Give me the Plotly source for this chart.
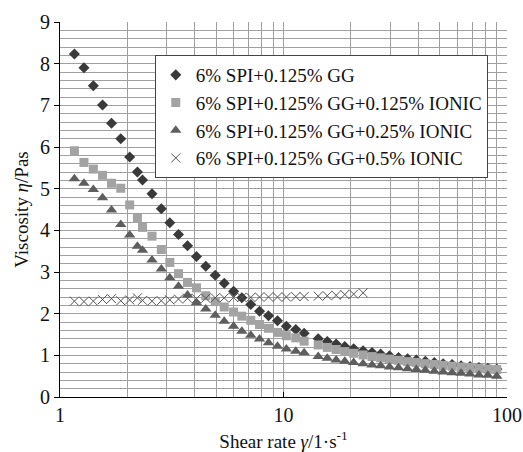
import plotly.graph_objects as go

# Shear rate (1/s), shared by all series
shear_rate = [1.16, 1.28, 1.41, 1.55, 1.70, 1.87, 2.05, 2.22, 2.34, 2.58, 2.84, 3.10, 3.39, 3.72,
              4.08, 4.49, 4.95, 5.43, 5.98, 6.51, 7.14, 7.81, 8.57, 9.40, 10.3, 11.35, 12.37,
              14.3, 15.7, 17.2, 18.8, 20.6, 22.7, 24.9, 27.2, 29.8, 32.7, 35.9, 39.3, 43.1,
              47.3, 51.8, 56.8, 62.3, 68.3, 74.9, 82.1, 90.0]

visc_gg = [8.23, 7.90, 7.47, 7.01, 6.57, 6.20, 5.76, 5.40, 5.21, 4.88, 4.52, 4.18, 3.90, 3.63,
           3.37, 3.14, 2.92, 2.73, 2.54, 2.38, 2.22, 2.06, 1.95, 1.83, 1.70, 1.62, 1.53,
           1.40, 1.33, 1.27, 1.21, 1.16, 1.11, 1.07, 1.03, 0.99, 0.95, 0.92, 0.89, 0.86,
           0.83, 0.80, 0.78, 0.75, 0.73, 0.71, 0.69, 0.67]

visc_ionic_0125 = [5.91, 5.63, 5.47, 5.32, 5.13, 5.01, 4.61, 4.29, 4.07, 3.86, 3.54, 3.23, 2.96, 2.75,
                   2.62, 2.43, 2.29, 2.16, 2.04, 1.94, 1.84, 1.74, 1.65, 1.55, 1.47, 1.42, 1.34,
                   1.25, 1.19, 1.14, 1.09, 1.05, 1.01, 0.97, 0.94, 0.91, 0.88, 0.85, 0.83, 0.80,
                   0.78, 0.76, 0.74, 0.72, 0.71, 0.69, 0.67, 0.66]

visc_ionic_025 = [5.24, 5.13, 4.98, 4.78, 4.49, 4.14, 3.89, 3.62, 3.52, 3.29, 3.07, 2.86, 2.66, 2.45,
                  2.26, 2.11, 1.96, 1.82, 1.70, 1.58, 1.48, 1.39, 1.30, 1.22, 1.15, 1.10, 1.06,
                  0.97, 0.93, 0.89, 0.86, 0.83, 0.80, 0.77, 0.75, 0.72, 0.70, 0.68, 0.66, 0.64,
                  0.62, 0.60, 0.58, 0.57, 0.55, 0.53, 0.52, 0.50]

visc_ionic_05 = [2.30, 2.29, 2.30, 2.34, 2.36, 2.31, 2.33, 2.38, 2.32, 2.30, 2.31, 2.33, 2.35, 2.37,
                 2.36, 2.37, 2.38, 2.38, 2.39, 2.39, 2.39, 2.40, 2.40, 2.40, 2.40, 2.41, 2.41,
                 2.42, 2.43, 2.44, 2.46, 2.47, 2.50]

names = ["6% SPI+0.125% GG",
         "6% SPI+0.125% GG+0.125% IONIC",
         "6% SPI+0.125% GG+0.25% IONIC",
         "6% SPI+0.125% GG+0.5% IONIC"]

font = "Liberation Serif, Times New Roman, serif"

fig = go.Figure()
fig.add_trace(go.Scatter(x=shear_rate, y=visc_gg, mode="markers", name=names[0],
                         marker=dict(symbol="diamond", size=8.5, color="#3a3a3a")))
fig.add_trace(go.Scatter(x=shear_rate, y=visc_ionic_0125, mode="markers", name=names[1],
                         marker=dict(symbol="square", size=9, color="#a3a3a3")))
fig.add_trace(go.Scatter(x=shear_rate, y=visc_ionic_025, mode="markers", name=names[2],
                         marker=dict(symbol="triangle-up", size=10, color="#5e5e5e")))
fig.add_trace(go.Scatter(x=shear_rate[:len(visc_ionic_05)], y=visc_ionic_05, mode="markers", name=names[3],
                         marker=dict(symbol="x-thin-open", size=9, color="#555555",
                                     line=dict(width=1, color="#555555"))))

grid = "#a0a0a0"
fig.update_layout(
    width=523, height=452,
    margin=dict(l=60, r=16, t=22, b=55),
    paper_bgcolor="white", plot_bgcolor="white",
    font=dict(family=font, size=19, color="#111111"),
    showlegend=True,
    legend=dict(x=0.212, y=0.912, xanchor="left", yanchor="top",
                bgcolor="white", bordercolor="#444444", borderwidth=1,
                font=dict(family=font, size=19, color="#111111"),
                tracegroupgap=0, itemsizing="trace"),
    xaxis=dict(type="log", range=[0, 2], dtick=1,
               showgrid=True, gridcolor=grid, gridwidth=1,
               minor=dict(dtick="D1", showgrid=True, gridcolor=grid, gridwidth=1),
               showline=True, linecolor="black", linewidth=1,
               ticks="inside", ticklen=5, tickcolor="black",
               tickfont=dict(family=font, size=20),
               title=dict(text="Shear rate <i>γ</i>/1·s<sup>-1</sup>", font=dict(family=font, size=19),
                          standoff=14),
               automargin=False, zeroline=False),
    yaxis=dict(range=[0, 9], dtick=1,
               showgrid=True, gridcolor=grid, gridwidth=1,
               minor=dict(dtick=0.2, showgrid=True, gridcolor=grid, gridwidth=1),
               showline=True, linecolor="black", linewidth=1,
               ticks="outside", ticklen=5, tickcolor="black",
               tickfont=dict(family=font, size=20),
               title=dict(text="Viscosity <i>η</i>/Pas", font=dict(family=font, size=19),
                          standoff=6),
               automargin=False, zeroline=False),
)

fig.write_html("out.html", config={"displayModeBar": False},
               post_script="document.body.style.margin='0';document.body.style.overflow='hidden';")
